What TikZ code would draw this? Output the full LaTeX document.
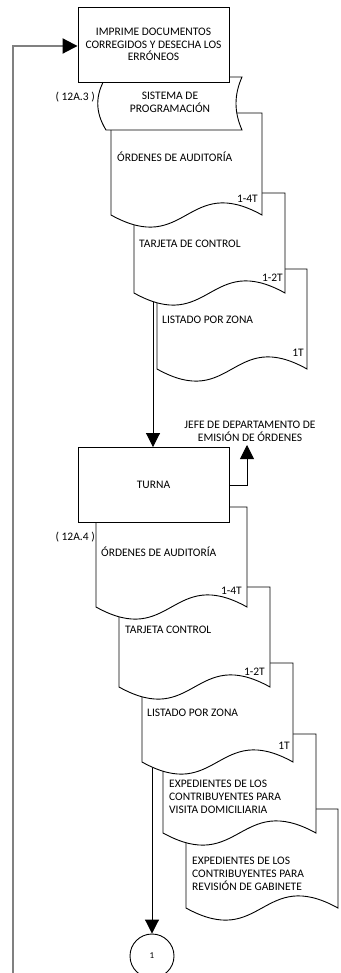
\documentclass[tikz,border=0pt]{standalone}
\usepackage{fontspec}
\setmainfont{Carlito}
\usetikzlibrary{arrows.meta}
\newcommand\docpath[4]{\path[shp] (#1,#2) -- (#3,#2) -- (#3,#4) .. controls ({(#1+#3)/2},{#4-42}) and ({(#1+#3)/2},{#4+42}) .. (#1,#4) -- cycle;}
\begin{document}
\begin{tikzpicture}[x=1pt,y=-1pt,
  lw/.style={line width=0.9pt},
  boxst/.style={draw,lw,fill=white,minimum width=151pt,minimum height=75pt,inner sep=0pt,align=center,font=\fontsize{11.5}{12.7}\selectfont},
  shp/.style={draw,lw,fill=white},
  txt/.style={inner sep=0pt,align=left,font=\fontsize{11.5}{12.9}\selectfont},
  arr/.style={lw,-{Triangle[length=14pt,width=14pt]}},
  loopline/.style={line width=2pt,draw={rgb,255:red,128;green,128;blue,128},-{Triangle[length=15pt,width=15pt,color=black]}},
]
\useasboundingbox (0,0) rectangle (340,973);
% ---- nodes (boxes) ----
\node[boxst] (imp) at (153.5,44.5) {IMPRIME DOCUMENTOS\\CORREGIDOS Y DESECHA LOS\\ERRÓNEOS};
\node[boxst] (turna) at (153.5,485) {TURNA};
\coordinate (s1) at (153,300);
\coordinate (s2) at (152,768);
\coordinate (jefetip) at (247,445);
\node[circle,draw,lw,minimum size=44pt,inner sep=0pt,font=\fontsize{9}{10}\selectfont] (c1) at (152,956) {1};
% ---- connectors ----
\draw[loopline] (13,985) -- (13,46) -- (imp.west |- 0,46);
\draw[arr] (s1) -- (turna.north -| s1);
\draw[arr] (s2) -- (c1.north);
\draw[arr] (turna.east) -| (jefetip);
% ---- first document stack ----
\docpath{157}{269}{307}{369}
\docpath{134}{193}{285}{293}
\docpath{111}{113}{262}{215}
\path[shp] (106,77) -- (242,77) .. controls (234,95) and (234,112) .. (242,130) -- (106,130) .. controls (95,112) and (95,95) .. (106,77) -- cycle;
\node[boxst] at (imp) {IMPRIME DOCUMENTOS\\CORREGIDOS Y DESECHA LOS\\ERRÓNEOS};
\node[txt,align=center] (sis) at (170,102.5) {SISTEMA DE\\PROGRAMACIÓN};
\node[txt,anchor=east] (r1) at (95,97) {( 12A.3 )};
\node[txt,anchor=west] (d1) at (117,157) {ÓRDENES DE AUDITORÍA};
\node[txt,anchor=east] (n1) at (258,199) {1-4T};
\node[txt,anchor=west] (d2) at (139,244) {TARJETA DE CONTROL};
\node[txt,anchor=east] (n2) at (283,278) {1-2T};
\node[txt,anchor=west] (d3) at (162,320) {LISTADO POR ZONA};
\node[txt,anchor=east] (n3) at (304,353) {1T};
% ---- second document stack ----
\docpath{186}{809}{338}{908}
\docpath{163}{734}{316}{833}
\docpath{142}{663}{293}{762}
\docpath{119}{587}{270}{687}
\docpath{96}{507}{247}{607}
\node[boxst] at (turna) {TURNA};
\node[txt,align=center] (jefe) at (250,431) {JEFE DE DEPARTAMENTO DE\\EMISIÓN DE ÓRDENES};
\node[txt,anchor=east] (r2) at (95,537) {( 12A.4 )};
\node[txt,anchor=west] (da) at (101,552) {ÓRDENES DE AUDITORÍA};
\node[txt,anchor=east] (na) at (242,591) {1-4T};
\node[txt,anchor=west] (db) at (125,630) {TARJETA CONTROL};
\node[txt,anchor=east] (nb) at (265,672) {1-2T};
\node[txt,anchor=west] (dc) at (147,713) {LISTADO POR ZONA};
\node[txt,anchor=east] (nc) at (290,746) {1T};
\node[txt,anchor=west] (dd) at (169,797) {EXPEDIENTES DE LOS\\CONTRIBUYENTES PARA\\VISITA DOMICILIARIA};
\node[txt,anchor=west] (de) at (192,874) {EXPEDIENTES DE LOS\\CONTRIBUYENTES PARA\\REVISIÓN DE GABINETE};
\end{tikzpicture}
\end{document}
